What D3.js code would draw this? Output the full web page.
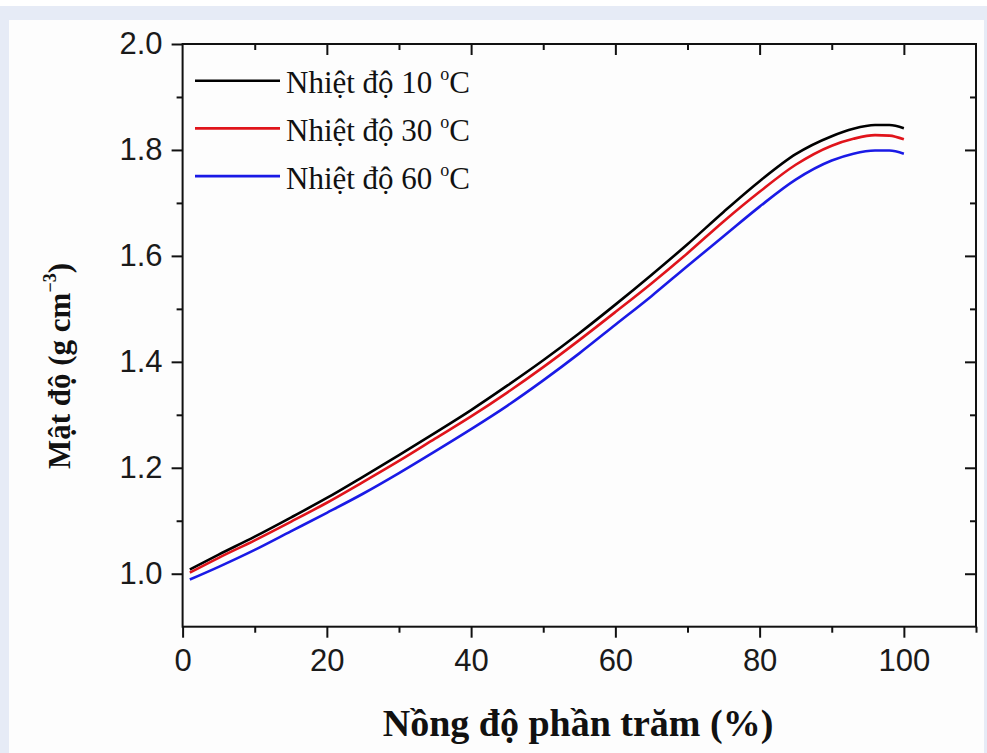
<!DOCTYPE html>
<html>
<head>
<meta charset="utf-8">
<script src="https://cdn.jsdelivr.net/npm/d3@7"></script>
<style>
  html, body { margin: 0; padding: 0; background: #ffffff; }
  svg { display: block; }
</style>
</head>
<body>
<svg id="chart" width="987" height="753"></svg>
<script>
// ---- data ----
const concentration = [1, 5, 10, 15, 20, 25, 30, 35, 40, 45, 50, 55, 60, 65, 70, 75, 80, 85, 90, 93, 96, 98, 100];
const density10C = [1.008, 1.036, 1.070, 1.106, 1.143, 1.183, 1.224, 1.266, 1.309, 1.355, 1.403, 1.454, 1.508, 1.564, 1.622, 1.683, 1.741, 1.792, 1.826, 1.840, 1.847, 1.847, 1.841];
const density30C = [1.002, 1.030, 1.063, 1.098, 1.134, 1.173, 1.213, 1.255, 1.297, 1.342, 1.390, 1.441, 1.494, 1.548, 1.605, 1.665, 1.721, 1.772, 1.808, 1.821, 1.828, 1.827, 1.820];
const density60C = [0.989, 1.013, 1.045, 1.080, 1.115, 1.151, 1.190, 1.231, 1.273, 1.317, 1.365, 1.416, 1.470, 1.524, 1.581, 1.637, 1.693, 1.744, 1.780, 1.793, 1.799, 1.799, 1.793];
const seriesLabels = ["Nhiệt độ 10 ", "Nhiệt độ 30 ", "Nhiệt độ 60 "];
const seriesColors = ["#000000", "#e0141b", "#1a1ae6"];
const xMajorTicks = [0, 20, 40, 60, 80, 100];
const xMinorTicks = [10, 30, 50, 70, 90, 110];
const yMajorTicks = [1.0, 1.2, 1.4, 1.6, 1.8, 2.0];
const yMinorTicks = [1.1, 1.3, 1.5, 1.7, 1.9];
const xTitle = "Nồng độ phần trăm (%)";
const yTitle = "Mật độ (g cm";

const svg = d3.select("#chart");
// background frame
svg.append("rect").attr("x", 0).attr("y", 6).attr("width", 987).attr("height", 747).attr("fill", "#e6ebf6");
svg.append("rect").attr("x", 9).attr("y", 20).attr("width", 975).attr("height", 733).attr("fill", "#fdfdfd");

const L = 182.6, R = 976, T = 44, B = 626.7;
const x = d3.scaleLinear().domain([0, 110]).range([L, R]);
const y = d3.scaleLinear().domain([0.9, 2.0]).range([B, T]);

const MAJ = 11, MIN = 6;
const fmt = d3.format(".1f");

function styleAxis(g) {
  g.select(".domain").remove();
  g.selectAll(".tick line").attr("stroke", "#111").attr("stroke-width", 2);
  g.selectAll(".tick text").attr("font-family", "Liberation Sans, Arial, sans-serif").attr("font-size", 31).attr("fill", "#1a1a1a");
}

// bottom
svg.append("g").attr("transform", `translate(0,${B})`)
  .call(d3.axisBottom(x).tickValues(xMajorTicks).tickSize(MAJ).tickPadding(11).tickFormat(d3.format("d")))
  .call(styleAxis);
svg.append("g").attr("transform", `translate(0,${B})`)
  .call(d3.axisBottom(x).tickValues(xMinorTicks).tickSize(MIN).tickFormat(""))
  .call(styleAxis);
// top (inward)
svg.append("g").attr("transform", `translate(0,${T})`)
  .call(d3.axisBottom(x).tickValues(xMajorTicks.filter(d => d > 0)).tickSize(MAJ).tickFormat(""))
  .call(styleAxis);
svg.append("g").attr("transform", `translate(0,${T})`)
  .call(d3.axisBottom(x).tickValues(xMinorTicks.filter(d => d < 110)).tickSize(MIN).tickFormat(""))
  .call(styleAxis);
// left
svg.append("g").attr("transform", `translate(${L},0)`)
  .call(d3.axisLeft(y).tickValues(yMajorTicks).tickSize(MAJ).tickPadding(9).tickFormat(fmt))
  .call(styleAxis);
svg.append("g").attr("transform", `translate(${L},0)`)
  .call(d3.axisLeft(y).tickValues(yMinorTicks).tickSize(MIN).tickFormat(""))
  .call(styleAxis);
// right (inward)
svg.append("g").attr("transform", `translate(${R},0)`)
  .call(d3.axisLeft(y).tickValues(yMajorTicks.filter(d => d < 2.0)).tickSize(MAJ).tickFormat(""))
  .call(styleAxis);
svg.append("g").attr("transform", `translate(${R},0)`)
  .call(d3.axisLeft(y).tickValues(yMinorTicks).tickSize(MIN).tickFormat(""))
  .call(styleAxis);

// frame
svg.append("rect").attr("x", L).attr("y", T).attr("width", R - L).attr("height", B - T)
  .attr("fill", "none").attr("stroke", "#111").attr("stroke-width", 2);

// curves
const allSeries = [density10C, density30C, density60C];
const line = d3.line().x(d => x(d[0])).y(d => y(d[1])).curve(d3.curveMonotoneX);
allSeries.forEach((vals, i) => {
  svg.append("path")
    .datum(concentration.map((c, j) => [c, vals[j]]))
    .attr("d", line)
    .attr("fill", "none")
    .attr("stroke", seriesColors[i])
    .attr("stroke-width", 2.6)
    .attr("stroke-linejoin", "round");
});

// legend
const legend = svg.append("g");
seriesLabels.forEach((lab, i) => {
  const ly = 80.7 + i * 47.7;
  legend.append("line").attr("x1", 195).attr("x2", 280).attr("y1", ly).attr("y2", ly)
    .attr("stroke", seriesColors[i]).attr("stroke-width", 2.6);
  const t = legend.append("text").attr("x", 286).attr("y", ly + 12.5)
    .attr("font-family", "Liberation Serif, Times New Roman, serif").attr("font-size", 31).attr("fill", "#111");
  t.append("tspan").text(lab);
  t.append("tspan").attr("font-size", 18).attr("dy", -13).text("o");
  t.append("tspan").attr("dy", 13).text("C");
});

// axis titles
svg.append("text").attr("x", 578).attr("y", 736).attr("text-anchor", "middle")
  .attr("font-family", "Liberation Serif, Times New Roman, serif").attr("font-weight", "bold")
  .attr("font-size", 38).attr("fill", "#111").text(xTitle);

const yt = svg.append("text").attr("transform", "translate(70,366) rotate(-90)").attr("text-anchor", "middle")
  .attr("font-family", "Liberation Serif, Times New Roman, serif").attr("font-weight", "bold")
  .attr("font-size", 31).attr("fill", "#111");
yt.append("tspan").text(yTitle);
yt.append("tspan").attr("font-size", 18).attr("dy", -14).text("−3");
yt.append("tspan").attr("dy", 14).text(")");
</script>
</body>
</html>
